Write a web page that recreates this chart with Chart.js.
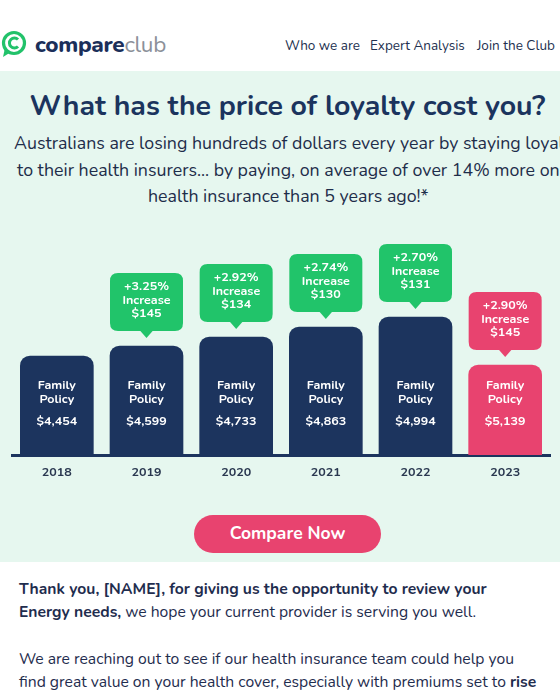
<!DOCTYPE html>
<html>
<head>
<meta charset="utf-8">
<script src="https://cdn.jsdelivr.net/npm/chart.js@4"></script>
<style>
  html,body{margin:0;padding:0;}
  body{width:560px;height:700px;overflow:hidden;position:relative;background:#fff;font-family:"Nunito","Open Sans",sans-serif;color:#1e2d4e;}
  .abs{position:absolute;white-space:nowrap;}
  #mint{position:absolute;left:0;top:71px;width:560px;height:491px;background:#e6f7ef;}
  #logo{left:1px;top:30px;}
  .brand{left:35px;top:30px;font-size:22.5px;line-height:30px;letter-spacing:-0.3px;}
  .brand b{color:#1b2f5a;font-weight:800;}
  .brand span{color:#8c9099;}
  .nav{top:37px;font-size:13.5px;line-height:18px;color:#22304f;}
  #title{left:0;width:575px;text-align:center;top:88px;font-size:28.5px;line-height:36px;font-weight:700;color:#1b345e;}
  .sub{font-size:17.8px;line-height:24px;color:#1e2d4a;}
  #chartBox{position:absolute;left:0;top:230px;width:560px;height:260px;}
  #btn{position:absolute;left:194px;top:515px;width:187px;height:38px;border-radius:19px;background:#e8436f;color:#fff;font-weight:700;font-size:17.5px;line-height:37px;text-align:center;}
  .body{left:19px;font-size:15.7px;line-height:22px;color:#1f2d4e;}
  .body b{font-weight:700;}
</style>
</head>
<body>
<div id="mint"></div>

<svg id="logo" class="abs" width="28" height="30" viewBox="0 0 28 30">
  <circle cx="13" cy="13" r="10.5" fill="none" stroke="#22c26a" stroke-width="3.2"/>
  <path d="M17 9.5 A5 5 0 1 0 17 16.5" fill="none" stroke="#22c26a" stroke-width="3"/>
  <path d="M4 18 L2 27 L10 22 Z" fill="#22c26a"/>
</svg>
<div class="abs brand"><b>compare</b><span>club</span></div>
<div class="abs nav" style="left:285px;">Who we are</div>
<div class="abs nav" style="left:370px;">Expert Analysis</div>
<div class="abs nav" style="left:477px;">Join the Club</div>

<div id="title" class="abs">What has the price of loyalty cost you?</div>
<div class="abs sub" style="left:14px;top:131px;">Australians are losing hundreds of dollars every year by staying loyal</div>
<div class="abs sub" style="left:17px;top:158px;">to their health insurers... by paying, on average of over 14% more on</div>
<div class="abs sub" style="left:148px;top:184px;">health insurance than 5 years ago!*</div>

<div id="chartBox"><canvas id="c" width="560" height="260"></canvas></div>

<div id="btn">Compare Now</div>

<div class="abs body" style="top:578px;"><b>Thank you, [NAME], for giving us the opportunity to review your</b></div>
<div class="abs body" style="top:601px;"><b>Energy needs,</b> we hope your current provider is serving you well.</div>
<div class="abs body" style="top:648px;">We are reaching out to see if our health insurance team could help you</div>
<div class="abs body" style="top:671px;">find great value on your health cover, especially with premiums set to <b>rise</b></div>

<script>
// ---- data read from the graphic ----
const years = ['2018', '2019', '2020', '2021', '2022', '2023'];
const prices = [4454, 4599, 4733, 4863, 4994, 5139];
const increasePct = [null, 3.25, 2.92, 2.74, 2.70, 2.90];
const increaseAmt = [null, 145, 134, 130, 131, 145];
// drawn height of each bar in the infographic (not to price scale)
const barLevels = [99, 109, 118, 128, 138, 90];
const policyLines = ['Family', 'Policy'];

// ---- styles ----
const NAVY = '#1c345e';
const PINK = '#e8436f';
const GREEN = '#21c46a';
const barColors = years.map((y, i) => i === years.length - 1 ? PINK : NAVY);
const calloutColors = years.map((y, i) => i === years.length - 1 ? PINK : GREEN);
const FONT = 'Nunito, "Open Sans", sans-serif';

const fmtMoney = v => '$' + v.toLocaleString('en-US');

function roundRect(ctx, x, y, w, h, r) {
  ctx.beginPath();
  ctx.moveTo(x + r, y);
  ctx.lineTo(x + w - r, y);
  ctx.quadraticCurveTo(x + w, y, x + w, y + r);
  ctx.lineTo(x + w, y + h - r);
  ctx.quadraticCurveTo(x + w, y + h, x + w - r, y + h);
  ctx.lineTo(x + r, y + h);
  ctx.quadraticCurveTo(x, y + h, x, y + h - r);
  ctx.lineTo(x, y + r);
  ctx.quadraticCurveTo(x, y, x + r, y);
  ctx.closePath();
}

const labelPlugin = {
  id: 'labels',
  afterDatasetsDraw(chart) {
    const ctx = chart.ctx;
    const meta = chart.getDatasetMeta(0);
    ctx.save();
    ctx.textAlign = 'center';
    ctx.textBaseline = 'middle';
    meta.data.forEach((bar, i) => {
      const { x, y, width, base } = bar.getProps(['x', 'y', 'width', 'base'], true);
      // labels inside bar
      ctx.fillStyle = '#ffffff';
      ctx.font = '700 12.5px ' + FONT;
      ctx.fillText(policyLines[0], x, base - 69);
      ctx.fillText(policyLines[1], x, base - 55);
      ctx.fillText(fmtMoney(prices[i]), x, base - 33);
      // callout
      if (increasePct[i] != null) {
        const h = 58;
        const bottom = y - 15;
        const top = bottom - h;
        const left = x - width / 2;
        ctx.fillStyle = calloutColors[i];
        roundRect(ctx, left, top, width, h, 8);
        ctx.fill();
        ctx.beginPath();
        ctx.moveTo(x - 7, bottom - 1);
        ctx.lineTo(x + 7, bottom - 1);
        ctx.lineTo(x, bottom + 7);
        ctx.closePath();
        ctx.fill();
        ctx.fillStyle = '#ffffff';
        ctx.font = '700 12.5px ' + FONT;
        ctx.fillText('+' + increasePct[i].toFixed(2) + '%', x, top + 14);
        ctx.fillText('Increase', x, top + 28);
        ctx.fillText('$' + increaseAmt[i], x, top + 41);
      }
    });
    ctx.restore();
  }
};

new Chart(document.getElementById('c'), {
  type: 'bar',
  data: {
    labels: years,
    datasets: [{
      data: barLevels,
      backgroundColor: barColors,
      borderRadius: 10,
      borderSkipped: 'start',
      barThickness: 73
    }]
  },
  options: {
    responsive: false,
    animation: false,
    events: [],
    layout: { padding: { left: 12, right: 10, top: 0, bottom: 0 } },
    plugins: { legend: { display: false }, tooltip: { enabled: false } },
    scales: {
      x: {
        grid: { display: false, drawTicks: false },
        border: { display: true, color: NAVY, width: 3 },
        ticks: { color: '#2a3850', font: { family: FONT, weight: '700', size: 12.5 }, padding: 10 },
        afterFit: s => { s.height = 35; }
      },
      y: {
        display: false,
        min: 0,
        max: 225
      }
    }
  },
  plugins: [labelPlugin]
});
</script>
</body>
</html>
